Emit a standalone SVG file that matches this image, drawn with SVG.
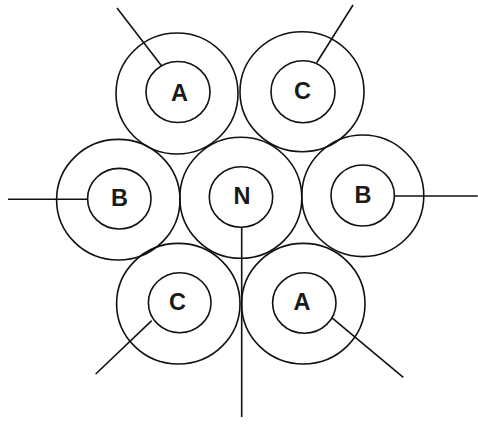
<svg xmlns="http://www.w3.org/2000/svg" width="478" height="430" viewBox="0 0 478 430">
<style>
ellipse{fill:none;stroke:#111;stroke-width:1.6}
line{stroke:#111;stroke-width:1.6}
text{font-family:"Liberation Sans",Arial,sans-serif;font-weight:bold;font-size:23.5px;fill:#1a1a1a;text-anchor:middle}
</style>
<rect width="478" height="430" fill="#fff"/>
<g id="connectors">
<line x1="117" y1="8" x2="161.7" y2="66"/>
<line x1="353" y1="5" x2="316.7" y2="62.7"/>
<line x1="8" y1="199.3" x2="87.7" y2="199.3"/>
<line x1="241.7" y1="227.3" x2="241.7" y2="417"/>
<line x1="394.3" y1="196" x2="477.7" y2="196"/>
<line x1="151.7" y1="320.7" x2="95.7" y2="374"/>
<line x1="331.7" y1="317.7" x2="403.3" y2="377.3"/>
</g>
<g id="A1"><ellipse cx="177" cy="93.5" rx="61" ry="60.5"/><ellipse cx="178" cy="92" rx="32" ry="30.5"/><text x="179.5" y="101">A</text></g>
<g id="C1"><ellipse cx="302" cy="91.7" rx="62" ry="60"/><ellipse cx="303" cy="91.7" rx="32" ry="31"/><text x="302.5" y="98.5">C</text></g>
<g id="B1"><ellipse cx="118.3" cy="199.7" rx="61.7" ry="60.3"/><ellipse cx="119.3" cy="198.7" rx="31.7" ry="30.3"/><text x="119.5" y="206">B</text></g>
<g id="N"><ellipse cx="240.8" cy="197.8" rx="61" ry="60.5"/><ellipse cx="241" cy="197" rx="31.7" ry="30.3"/><text x="242" y="204">N</text></g>
<g id="B2"><ellipse cx="362.8" cy="195.8" rx="61" ry="60.8"/><ellipse cx="362.7" cy="195.5" rx="31.7" ry="30.5"/><text x="363" y="203">B</text></g>
<g id="C2"><ellipse cx="178.3" cy="303.7" rx="61.7" ry="60.3"/><ellipse cx="179.7" cy="302.7" rx="31.3" ry="30"/><text x="177.5" y="310">C</text></g>
<g id="A2"><ellipse cx="303.3" cy="303.7" rx="61.7" ry="60.3"/><ellipse cx="304.3" cy="303" rx="31.7" ry="30.3"/><text x="302" y="310">A</text></g>
</svg>
